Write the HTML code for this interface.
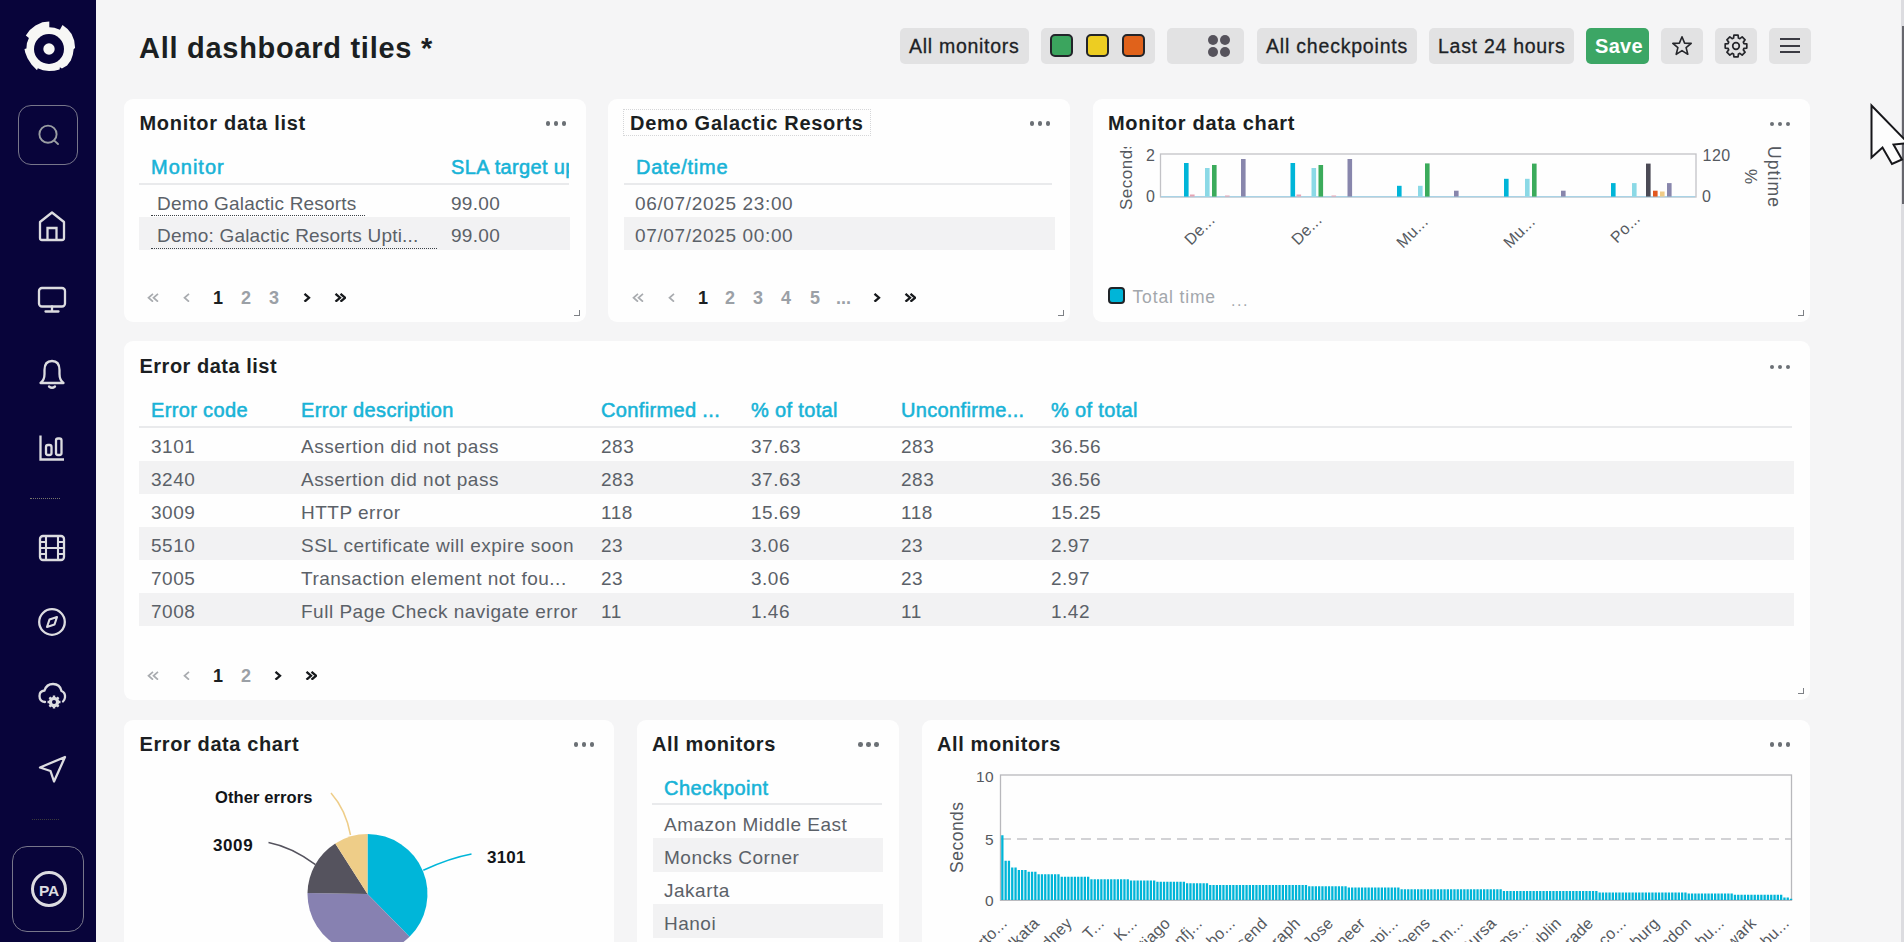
<!DOCTYPE html>
<html><head><meta charset="utf-8">
<style>
*{box-sizing:border-box;margin:0;padding:0}
html,body{width:1904px;height:942px;overflow:hidden;background:#f5f5f6;font-family:"Liberation Sans",sans-serif;color:#1d2226}
.abs{position:absolute}
#side{position:absolute;left:0;top:0;width:96px;height:942px;background:#08043a}
.card{position:absolute;background:#fefefe;border-radius:9px}
.ttl{position:absolute;font-weight:bold;font-size:20px;letter-spacing:0.6px;color:#1b1f22;white-space:nowrap;line-height:24px}
.dots{position:absolute;width:22px;height:6px}
.dots i{position:absolute;top:0;width:5px;height:5px;border-radius:50%;background:#6b7075}
.hdr{position:absolute;color:#1ab3d4;font-size:19px;font-weight:bold;white-space:nowrap;line-height:22px;letter-spacing:0.2px}
.cell{position:absolute;color:#5b6168;font-size:19px;white-space:nowrap;line-height:22px;letter-spacing:0.15px}
.rowbg{position:absolute;background:#f0f0f1}
.hline{position:absolute;height:2px;background:#e6e7e9}
.pg{position:absolute;font-size:19px;font-weight:bold;color:#9a9fa5;line-height:22px;white-space:nowrap}
.pg.on{color:#1b1f22}
.btn{position:absolute;top:28px;height:36px;background:#e2e2e3;border-radius:5px;font-size:20px;color:#1d2226;line-height:36px;white-space:nowrap;-webkit-text-stroke:0.3px #1d2226}
.rh{position:absolute;width:6px;height:6px;border-right:2px solid #777;border-bottom:2px solid #777}
.t{position:absolute;line-height:1;white-space:nowrap}
.a{position:absolute}
.dt{position:absolute;width:4.6px;height:4.6px;border-radius:50%}
.hl{position:absolute;height:2px;background:#e9eaec}
.rb{position:absolute;background:#f2f2f3}
.du{position:absolute;height:0;border-top:1.3px dotted #3b4046}
.rh{position:absolute;width:6px;height:6px;border-right:1.6px solid #7d8085;border-bottom:1.6px solid #7d8085}
</style></head><body>
<div id="side">
<svg class="abs" style="left:22.66px;top:22.67px;overflow:visible" width="52" height="52" viewBox="0 0 52 52"><path d="M26.3 -1.5 L26.3 4.2 L31.4 4.8 L36.9 6.8 L39.5 1.9 L44.6 5.9 L48.6 11.1 L51.2 17.4 L52.1 24.9 L50.7 26.0 L49.8 31.7 L47.8 37.5 L44.1 42.6 L38.9 45.5 L36.9 44.3 L36.6 46.4 L31.4 47.8 L26.0 48.1 L20.0 47.2 L14.8 45.2 L14.0 47.2 L8.5 41.5 L4.5 35.2 L2.2 29.4 L1.5 26.0 L3.4 25.4 L3.9 20.3 L5.9 15.1 L2.8 12.4 L6.8 7.1 L12.5 2.5 L19.4 -0.7 Z" fill="#f7f7f5"/><circle cx="26" cy="26" r="15" fill="#08043a"/><circle cx="26" cy="26" r="5.7" fill="#f7f7f5"/></svg>
<div class="abs" style="left:18px;top:105px;width:60px;height:60px;border:1.2px solid #77768a;border-radius:13px"></div>
<svg class="abs" style="left:36px;top:122px" width="24" height="24" viewBox="0 0 24 24"><circle cx="12" cy="12.2" r="8.6" fill="none" stroke="#9a9ea2" stroke-width="1.9"/><path d="M18.3 18.6 L22 22" stroke="#9a9ea2" stroke-width="1.9" stroke-linecap="round"/></svg>
<svg class="abs" style="left:36px;top:208px" width="32" height="36" viewBox="0 0 32 36">
 <path d="M4 14 L16 4.5 L28 14 L28 30 Q28 32 26 32 L6 32 Q4 32 4 30 Z" fill="none" stroke="#dcdce0" stroke-width="2.3" stroke-linejoin="round"/>
 <path d="M11.5 32 L11.5 20 L20.5 20 L20.5 32" fill="none" stroke="#dcdce0" stroke-width="2.3"/></svg>
<svg class="abs" style="left:36px;top:284px" width="32" height="32" viewBox="0 0 32 32">
 <rect x="3" y="4" width="26" height="18.5" rx="3" fill="none" stroke="#dcdce0" stroke-width="2.3"/>
 <path d="M16 22.5 L16 27.5 M9.5 27.5 L22.5 27.5" stroke="#dcdce0" stroke-width="2.3" stroke-linecap="round"/></svg>
<svg class="abs" style="left:36px;top:357px" width="32" height="34" viewBox="0 0 32 34">
 <path d="M4.5 26 Q8.5 23 8.5 17 L8.5 13 Q8.5 4 16 4 Q23.5 4 23.5 13 L23.5 17 Q23.5 23 27.5 26 Z" fill="none" stroke="#dcdce0" stroke-width="2.3" stroke-linejoin="round"/>
 <path d="M13 29.5 Q16 32 19 29.5" fill="none" stroke="#dcdce0" stroke-width="2.3" stroke-linecap="round"/></svg>
<svg class="abs" style="left:36px;top:432px" width="32" height="32" viewBox="0 0 32 32">
 <path d="M4.5 3.5 L4.5 27.5 L28 27.5" fill="none" stroke="#dcdce0" stroke-width="2.3"/>
 <rect x="10" y="13" width="5.5" height="10" rx="2" fill="none" stroke="#dcdce0" stroke-width="2.3"/>
 <rect x="20" y="6.5" width="5.5" height="16.5" rx="2" fill="none" stroke="#dcdce0" stroke-width="2.3"/></svg>
<div class="abs" style="left:30px;top:497.5px;width:30px;height:0;border-top:1.2px dotted #77776a"></div>
<svg class="abs" style="left:36px;top:532px" width="32" height="32" viewBox="0 0 32 32">
 <rect x="4" y="4" width="24" height="24" rx="3" fill="none" stroke="#dcdce0" stroke-width="2.3"/>
 <path d="M10 4 L10 28 M22 4 L22 28 M4 10 L10 10 M4 16 L28 16 M4 22 L10 22 M22 10 L28 10 M22 22 L28 22" stroke="#dcdce0" stroke-width="2.1"/></svg>
<svg class="abs" style="left:36px;top:606px" width="32" height="32" viewBox="0 0 32 32">
 <circle cx="16" cy="16" r="12.8" fill="none" stroke="#dcdce0" stroke-width="2.3"/>
 <path d="M21 11 L18.5 18.5 L11 21 L13.5 13.5 Z" fill="none" stroke="#dcdce0" stroke-width="2.1" stroke-linejoin="round"/></svg>
<svg class="abs" style="left:36px;top:680px" width="32" height="32" viewBox="0 0 32 32">
 <path d="M9 22 Q3.5 21.5 3.5 16 Q3.5 11 8.5 10.5 Q10.5 4 17 4 Q24 4 25.5 11 Q29.5 12.5 29 17.5 Q28.7 20 27 21.5" fill="none" stroke="#dcdce0" stroke-width="2.3" stroke-linecap="round"/>
 <circle cx="18" cy="22" r="5.2" fill="#dcdce0"/><circle cx="18" cy="22" r="2" fill="#08043a"/>
 <path d="M18 15.5 L18 28.5 M11.5 22 L24.5 22 M13.4 17.4 L22.6 26.6 M22.6 17.4 L13.4 26.6" stroke="#dcdce0" stroke-width="2.4"/>
 <circle cx="18" cy="22" r="2" fill="#08043a"/></svg>
<svg class="abs" style="left:36px;top:753px" width="32" height="32" viewBox="0 0 32 32">
 <path d="M29 4 L4 14.5 L14.5 18 L18 28.5 Z" fill="none" stroke="#dcdce0" stroke-width="2.3" stroke-linejoin="round"/></svg>
<div class="abs" style="left:32px;top:819px;width:27px;height:0;border-top:1px dotted #3a3a3a"></div>
<div class="abs" style="left:12px;top:846px;width:72px;height:86px;border:1.2px solid #77768a;border-radius:15px"></div>
<div class="abs" style="left:31px;top:870.7px;width:36px;height:36px;border:3px solid #dcdce0;border-radius:50%;color:#dcdce0;font-weight:bold;font-size:15.5px;line-height:34px;text-align:center;letter-spacing:-0.2px">PA</div>
</div>
<div class="abs ttl" style="left:139px;top:30px;font-size:29px;line-height:36px;letter-spacing:0.72px">All dashboard tiles *</div>
<!-- toolbar -->
<div class="btn" style="left:900px;width:129px;padding-left:9px;letter-spacing:0.72px;font-size:19.5px">All monitors</div>
<div class="btn" style="left:1041px;width:114px">
  <span class="abs" style="left:9px;top:6px;width:23px;height:23px;border:2.4px solid #23252a;border-radius:5px;background:#3ba55e"></span>
  <span class="abs" style="left:45px;top:6px;width:23px;height:23px;border:2.4px solid #23252a;border-radius:5px;background:#edcd22"></span>
  <span class="abs" style="left:81px;top:6px;width:23px;height:23px;border:2.4px solid #23252a;border-radius:5px;background:#e0621b"></span>
</div>
<div class="btn" style="left:1167px;width:77px">
  <span class="abs" style="left:41px;top:7px;width:10px;height:10px;border-radius:50%;background:#56535c"></span>
  <span class="abs" style="left:53px;top:7px;width:10px;height:10px;border-radius:50%;background:#56535c"></span>
  <span class="abs" style="left:41px;top:19px;width:10px;height:10px;border-radius:50%;background:#56535c"></span>
  <span class="abs" style="left:53px;top:19px;width:10px;height:10px;border-radius:50%;background:#56535c"></span>
</div>
<div class="btn" style="left:1257px;width:160px;padding-left:9px;letter-spacing:0.8px;font-size:19.5px">All checkpoints</div>
<div class="btn" style="left:1429px;width:145px;padding-left:9px;letter-spacing:0.72px;font-size:19.5px">Last 24 hours</div>
<div class="btn" style="left:1586px;width:63px;background:#3ca665;color:#fff;padding-left:9px;font-size:20px;font-weight:bold;letter-spacing:0.3px;-webkit-text-stroke:0">Save</div>
<div class="btn" style="left:1661px;width:42px">
  <svg class="abs" style="left:10px;top:7px" width="22" height="22" viewBox="0 0 22 22"><path d="M11 1.8 L13.6 8.1 L20.2 8.4 L15.1 12.6 L16.8 19.3 L11 15.6 L5.2 19.3 L6.9 12.6 L1.8 8.4 L8.4 8.1 Z" fill="none" stroke="#25262b" stroke-width="1.6" stroke-linejoin="round"/></svg>
</div>
<div class="btn" style="left:1715px;width:42px">
  <svg class="abs" style="left:8px;top:5px" width="26" height="26" viewBox="0 0 26 26"><path d="M10.55 5.07 L10.92 2.20 L15.08 2.20 L15.45 5.07 L16.87 5.66 L19.17 3.89 L22.11 6.83 L20.34 9.13 L20.93 10.55 L23.80 10.92 L23.80 15.08 L20.93 15.45 L20.34 16.87 L22.11 19.17 L19.17 22.11 L16.87 20.34 L15.45 20.93 L15.08 23.80 L10.92 23.80 L10.55 20.93 L9.13 20.34 L6.83 22.11 L3.89 19.17 L5.66 16.87 L5.07 15.45 L2.20 15.08 L2.20 10.92 L5.07 10.55 L5.66 9.13 L3.89 6.83 L6.83 3.89 L9.13 5.66 Z" fill="none" stroke="#25262b" stroke-width="1.7" stroke-linejoin="round"/><circle cx="13" cy="13" r="3.3" fill="none" stroke="#25262b" stroke-width="1.7"/></svg>
</div>
<div class="btn" style="left:1769px;width:42px">
  <span class="abs" style="left:11px;top:10px;width:20px;height:2.2px;background:#3a3a42"></span>
  <span class="abs" style="left:11px;top:17px;width:20px;height:2.2px;background:#3a3a42"></span>
  <span class="abs" style="left:11px;top:23px;width:20px;height:2.2px;background:#3a3a42"></span>
</div>
<div class="card" style="left:124px;top:99px;width:462px;height:223px"></div>
<div class="t" style="left:139.5px;top:113.1px;font-size:20px;font-weight:bold;color:#1b1f22;letter-spacing:0.7px;">Monitor data list</div>
<i class="dt" style="left:545.7px;top:121.2px;background:#6b7075"></i><i class="dt" style="left:553.7px;top:121.2px;background:#6b7075"></i><i class="dt" style="left:561.7px;top:121.2px;background:#6b7075"></i>
<div class="t" style="left:151.0px;top:157.2px;font-size:20px;font-weight:normal;color:#18b3d7;letter-spacing:1.0px;-webkit-text-stroke:0.55px #18b3d7">Monitor</div>
<div class="a" style="left:451px;top:152px;width:118px;height:28px;overflow:hidden"><div class="t" style="left:0.0px;top:5.2px;font-size:20px;font-weight:normal;color:#18b3d7;letter-spacing:0.35px;-webkit-text-stroke:0.55px #18b3d7">SLA target uptime</div>
</div>
<i class="hl" style="left:139px;top:183px;width:430px"></i>
<i class="rb" style="left:139px;top:217px;width:431px;height:33px"></i>
<div class="t" style="left:157.0px;top:193.6px;font-size:19px;font-weight:normal;color:#5b6168;letter-spacing:0.2px;">Demo Galactic Resorts</div>
<i class="du" style="left:151px;top:215px;width:214px"></i>
<div class="t" style="left:451.0px;top:193.6px;font-size:19px;font-weight:normal;color:#5b6168;letter-spacing:0.3px;">99.00</div>
<div class="t" style="left:157.0px;top:226.2px;font-size:19px;font-weight:normal;color:#5b6168;letter-spacing:0.2px;">Demo: Galactic Resorts Upti...</div>
<i class="du" style="left:151px;top:248px;width:286px"></i>
<div class="t" style="left:451.0px;top:226.2px;font-size:19px;font-weight:normal;color:#5b6168;letter-spacing:0.3px;">99.00</div>
<svg class="a" style="left:147.0px;top:292.8px" width="12" height="9.5" viewBox="0 0 12 9.5"><path d="M6 0.8 L1.5 4.75 L6 8.7 M11 0.8 L6.5 4.75 L11 8.7" fill="none" stroke="#a8abaf" stroke-width="1.7"/></svg>
<svg class="a" style="left:183.0px;top:292.8px" width="8" height="9.5" viewBox="0 0 8 9.5"><path d="M6 0.8 L1.5 4.75 L6 8.7" fill="none" stroke="#a8abaf" stroke-width="1.7"/></svg>
<div class="t" style="left:213.0px;top:288.8px;font-size:18px;font-weight:bold;color:#1b1f22;letter-spacing:0px;">1</div>
<div class="t" style="left:241.0px;top:288.8px;font-size:18px;font-weight:bold;color:#9ba0a6;letter-spacing:0px;">2</div>
<div class="t" style="left:269.0px;top:288.8px;font-size:18px;font-weight:bold;color:#9ba0a6;letter-spacing:0px;">3</div>
<svg class="a" style="left:302.5px;top:292.8px" width="8" height="9.5" viewBox="0 0 8 9.5"><path d="M1.5 0.8 L6 4.75 L1.5 8.7" fill="none" stroke="#16191c" stroke-width="2.3"/></svg>
<svg class="a" style="left:334.0px;top:292.8px" width="12" height="9.5" viewBox="0 0 12 9.5"><path d="M1.5 0.8 L6 4.75 L1.5 8.7 M6.5 0.8 L11 4.75 L6.5 8.7" fill="none" stroke="#16191c" stroke-width="2.3"/></svg>
<i class="rh" style="left:574.0px;top:310.0px"></i>
<div class="card" style="left:608px;top:99px;width:462px;height:223px"></div>
<i class="a" style="left:623px;top:109px;width:248px;height:27px;border:1px dotted #d5d6d8"></i>
<div class="t" style="left:630.0px;top:113.1px;font-size:20px;font-weight:bold;color:#1b1f22;letter-spacing:0.7px;">Demo Galactic Resorts</div>
<i class="dt" style="left:1029.7px;top:121.2px;background:#6b7075"></i><i class="dt" style="left:1037.7px;top:121.2px;background:#6b7075"></i><i class="dt" style="left:1045.7px;top:121.2px;background:#6b7075"></i>
<div class="t" style="left:636.0px;top:157.2px;font-size:20px;font-weight:normal;color:#18b3d7;letter-spacing:0.75px;-webkit-text-stroke:0.55px #18b3d7">Date/time</div>
<i class="hl" style="left:624px;top:183px;width:428px"></i>
<i class="rb" style="left:624px;top:217px;width:431px;height:33px"></i>
<div class="t" style="left:635.0px;top:193.6px;font-size:19px;font-weight:normal;color:#5b6168;letter-spacing:0.65px;">06/07/2025 23:00</div>
<div class="t" style="left:635.0px;top:226.2px;font-size:19px;font-weight:normal;color:#5b6168;letter-spacing:0.65px;">07/07/2025 00:00</div>
<svg class="a" style="left:632.0px;top:292.8px" width="12" height="9.5" viewBox="0 0 12 9.5"><path d="M6 0.8 L1.5 4.75 L6 8.7 M11 0.8 L6.5 4.75 L11 8.7" fill="none" stroke="#a8abaf" stroke-width="1.7"/></svg>
<svg class="a" style="left:668.0px;top:292.8px" width="8" height="9.5" viewBox="0 0 8 9.5"><path d="M6 0.8 L1.5 4.75 L6 8.7" fill="none" stroke="#a8abaf" stroke-width="1.7"/></svg>
<div class="t" style="left:698.0px;top:288.8px;font-size:18px;font-weight:bold;color:#1b1f22;letter-spacing:0px;">1</div>
<div class="t" style="left:725.0px;top:288.8px;font-size:18px;font-weight:bold;color:#9ba0a6;letter-spacing:0px;">2</div>
<div class="t" style="left:753.0px;top:288.8px;font-size:18px;font-weight:bold;color:#9ba0a6;letter-spacing:0px;">3</div>
<div class="t" style="left:781.0px;top:288.8px;font-size:18px;font-weight:bold;color:#9ba0a6;letter-spacing:0px;">4</div>
<div class="t" style="left:810.0px;top:288.8px;font-size:18px;font-weight:bold;color:#9ba0a6;letter-spacing:0px;">5</div>
<div class="t" style="left:836.0px;top:288.8px;font-size:18px;font-weight:bold;color:#9ba0a6;letter-spacing:0px;">...</div>
<svg class="a" style="left:873.0px;top:292.8px" width="8" height="9.5" viewBox="0 0 8 9.5"><path d="M1.5 0.8 L6 4.75 L1.5 8.7" fill="none" stroke="#16191c" stroke-width="2.3"/></svg>
<svg class="a" style="left:904.0px;top:292.8px" width="12" height="9.5" viewBox="0 0 12 9.5"><path d="M1.5 0.8 L6 4.75 L1.5 8.7 M6.5 0.8 L11 4.75 L6.5 8.7" fill="none" stroke="#16191c" stroke-width="2.3"/></svg>
<i class="rh" style="left:1058.0px;top:310.0px"></i>
<div class="card" style="left:1093px;top:99px;width:717px;height:223px"></div>
<div class="t" style="left:1108.0px;top:113.1px;font-size:20px;font-weight:bold;color:#1b1f22;letter-spacing:0.7px;">Monitor data chart</div>
<i class="dt" style="left:1769.7px;top:121.7px;background:#6b7075"></i><i class="dt" style="left:1777.7px;top:121.7px;background:#6b7075"></i><i class="dt" style="left:1785.7px;top:121.7px;background:#6b7075"></i>
<svg class="a" style="left:1093px;top:99px" width="717" height="223" viewBox="1093 99 717 223"><rect x="1160.5" y="154" width="535.5" height="43" fill="none" stroke="#c2c2c6" stroke-width="1.3"/><line x1="1161" y1="196.6" x2="1695" y2="196.6" stroke="#a9d3e6" stroke-width="1.4"/><rect x="1184.0" y="163" width="4.6" height="33.6" fill="#00b5d8"/><rect x="1190.0" y="194.5" width="4.6" height="2.1" fill="#e6a4b4"/><rect x="1205.0" y="168" width="4.6" height="28.6" fill="#8bd9e6"/><rect x="1212.0" y="165" width="4.6" height="31.6" fill="#3bab5b"/><rect x="1225.0" y="195.5" width="4.6" height="1.1" fill="#e6a4b4"/><rect x="1241.0" y="159" width="4.6" height="37.6" fill="#8886ac"/><rect x="1290.5" y="163" width="4.6" height="33.6" fill="#00b5d8"/><rect x="1296.5" y="194.5" width="4.6" height="2.1" fill="#e6a4b4"/><rect x="1311.5" y="168" width="4.6" height="28.6" fill="#8bd9e6"/><rect x="1318.5" y="165" width="4.6" height="31.6" fill="#3bab5b"/><rect x="1331.5" y="195.5" width="4.6" height="1.1" fill="#e6a4b4"/><rect x="1347.5" y="159" width="4.6" height="37.6" fill="#8886ac"/><rect x="1397.0" y="185.8" width="4.6" height="10.8" fill="#00b5d8"/><rect x="1418.0" y="185.8" width="4.6" height="10.8" fill="#8bd9e6"/><rect x="1425.0" y="163.4" width="4.6" height="33.2" fill="#3bab5b"/><rect x="1454.0" y="190.7" width="4.6" height="5.9" fill="#8886ac"/><rect x="1504.0" y="178.8" width="4.6" height="17.8" fill="#00b5d8"/><rect x="1525.0" y="178.8" width="4.6" height="17.8" fill="#8bd9e6"/><rect x="1532.0" y="163.6" width="4.6" height="33.0" fill="#3bab5b"/><rect x="1561.0" y="190.7" width="4.6" height="5.9" fill="#8886ac"/><rect x="1611.0" y="183.1" width="4.6" height="13.5" fill="#00b5d8"/><rect x="1632.0" y="183.1" width="4.6" height="13.5" fill="#8bd9e6"/><rect x="1646.0" y="163.6" width="4.6" height="33.0" fill="#4b4a55"/><rect x="1653.0" y="190.7" width="4.6" height="5.9" fill="#e2581f"/><rect x="1660.0" y="191.5" width="4.6" height="5.1" fill="#f0cb86"/><rect x="1667.0" y="183.1" width="4.6" height="13.5" fill="#8886ac"/></svg>
<div class="t" style="left:1146.0px;top:147.5px;font-size:16px;font-weight:normal;color:#55595f;letter-spacing:0px;">2</div>
<div class="t" style="left:1146.0px;top:189.3px;font-size:16px;font-weight:normal;color:#55595f;letter-spacing:0px;">0</div>
<div class="t" style="left:1702.5px;top:148.0px;font-size:16px;font-weight:normal;color:#55595f;letter-spacing:0.5px;">120</div>
<div class="t" style="left:1702.0px;top:189.0px;font-size:16px;font-weight:normal;color:#55595f;letter-spacing:0px;">0</div>
<div class="a" style="left:1112px;top:147px;width:26px;height:64px;overflow:hidden"><div class="t" style="left:5.5px;top:63px;font-size:17px;color:#55595f;letter-spacing:0.5px;transform-origin:0 0;transform:rotate(-90deg)">Seconds</div></div>
<div class="t" style="left:1782px;top:146px;font-size:17.5px;color:#55595f;letter-spacing:1.1px;transform-origin:0 0;transform:rotate(90deg)">Uptime</div>
<div class="t" style="left:1759px;top:169px;font-size:17px;color:#55595f;transform-origin:0 0;transform:rotate(90deg)">%</div>
<div class="t" style="left:1193px;top:248px;font-size:16px;color:#55595f;letter-spacing:0.3px;transform-origin:0 100%;transform:translateY(-100%) rotate(-45deg)">De...</div>
<div class="t" style="left:1300px;top:248px;font-size:16px;color:#55595f;letter-spacing:0.3px;transform-origin:0 100%;transform:translateY(-100%) rotate(-45deg)">De...</div>
<div class="t" style="left:1405px;top:251px;font-size:16px;color:#55595f;letter-spacing:0.3px;transform-origin:0 100%;transform:translateY(-100%) rotate(-45deg)">Mu...</div>
<div class="t" style="left:1512px;top:251px;font-size:16px;color:#55595f;letter-spacing:0.3px;transform-origin:0 100%;transform:translateY(-100%) rotate(-45deg)">Mu...</div>
<div class="t" style="left:1619px;top:246px;font-size:16px;color:#55595f;letter-spacing:0.3px;transform-origin:0 100%;transform:translateY(-100%) rotate(-45deg)">Po...</div>
<i class="a" style="left:1108px;top:287px;width:17px;height:17px;background:#00b5d8;border:2px solid #202428;border-radius:4px"></i>
<div class="t" style="left:1132.5px;top:288.7px;font-size:17.5px;font-weight:normal;color:#a3a7ac;letter-spacing:0.85px;">Total time</div>
<div class="t" style="left:1231.0px;top:293.0px;font-size:16px;font-weight:normal;color:#a3a7ac;letter-spacing:1.6px;">...</div>
<i class="rh" style="left:1798.0px;top:310.0px"></i>
<div class="card" style="left:124px;top:341px;width:1686px;height:359px"></div>
<div class="t" style="left:139.5px;top:356.1px;font-size:20px;font-weight:bold;color:#1b1f22;letter-spacing:0.5px;">Error data list</div>
<i class="dt" style="left:1769.7px;top:364.5px;background:#6b7075"></i><i class="dt" style="left:1777.7px;top:364.5px;background:#6b7075"></i><i class="dt" style="left:1785.7px;top:364.5px;background:#6b7075"></i>
<div class="t" style="left:151.0px;top:400.0px;font-size:20px;font-weight:normal;color:#18b3d7;letter-spacing:0.35px;-webkit-text-stroke:0.55px #18b3d7">Error code</div>
<div class="t" style="left:301.0px;top:400.0px;font-size:20px;font-weight:normal;color:#18b3d7;letter-spacing:0.35px;-webkit-text-stroke:0.55px #18b3d7">Error description</div>
<div class="t" style="left:601.0px;top:400.0px;font-size:20px;font-weight:normal;color:#18b3d7;letter-spacing:0.35px;-webkit-text-stroke:0.55px #18b3d7">Confirmed ...</div>
<div class="t" style="left:751.0px;top:400.0px;font-size:20px;font-weight:normal;color:#18b3d7;letter-spacing:0.35px;-webkit-text-stroke:0.55px #18b3d7">% of total</div>
<div class="t" style="left:901.0px;top:400.0px;font-size:20px;font-weight:normal;color:#18b3d7;letter-spacing:0.35px;-webkit-text-stroke:0.55px #18b3d7">Unconfirme...</div>
<div class="t" style="left:1051.0px;top:400.0px;font-size:20px;font-weight:normal;color:#18b3d7;letter-spacing:0.35px;-webkit-text-stroke:0.55px #18b3d7">% of total</div>
<i class="hl" style="left:139px;top:426px;width:1653px"></i>
<div class="t" style="left:151.0px;top:436.9px;font-size:19px;font-weight:normal;color:#5b6168;letter-spacing:0.5px;">3101</div>
<div class="t" style="left:301.0px;top:436.9px;font-size:19px;font-weight:normal;color:#5b6168;letter-spacing:0.5px;">Assertion did not pass</div>
<div class="t" style="left:601.0px;top:436.9px;font-size:19px;font-weight:normal;color:#5b6168;letter-spacing:0.5px;">283</div>
<div class="t" style="left:751.0px;top:436.9px;font-size:19px;font-weight:normal;color:#5b6168;letter-spacing:0.5px;">37.63</div>
<div class="t" style="left:901.0px;top:436.9px;font-size:19px;font-weight:normal;color:#5b6168;letter-spacing:0.5px;">283</div>
<div class="t" style="left:1051.0px;top:436.9px;font-size:19px;font-weight:normal;color:#5b6168;letter-spacing:0.5px;">36.56</div>
<i class="rb" style="left:139px;top:461px;width:1655px;height:33px"></i>
<div class="t" style="left:151.0px;top:469.9px;font-size:19px;font-weight:normal;color:#5b6168;letter-spacing:0.5px;">3240</div>
<div class="t" style="left:301.0px;top:469.9px;font-size:19px;font-weight:normal;color:#5b6168;letter-spacing:0.5px;">Assertion did not pass</div>
<div class="t" style="left:601.0px;top:469.9px;font-size:19px;font-weight:normal;color:#5b6168;letter-spacing:0.5px;">283</div>
<div class="t" style="left:751.0px;top:469.9px;font-size:19px;font-weight:normal;color:#5b6168;letter-spacing:0.5px;">37.63</div>
<div class="t" style="left:901.0px;top:469.9px;font-size:19px;font-weight:normal;color:#5b6168;letter-spacing:0.5px;">283</div>
<div class="t" style="left:1051.0px;top:469.9px;font-size:19px;font-weight:normal;color:#5b6168;letter-spacing:0.5px;">36.56</div>
<div class="t" style="left:151.0px;top:502.9px;font-size:19px;font-weight:normal;color:#5b6168;letter-spacing:0.5px;">3009</div>
<div class="t" style="left:301.0px;top:502.9px;font-size:19px;font-weight:normal;color:#5b6168;letter-spacing:0.5px;">HTTP error</div>
<div class="t" style="left:601.0px;top:502.9px;font-size:19px;font-weight:normal;color:#5b6168;letter-spacing:0.5px;">118</div>
<div class="t" style="left:751.0px;top:502.9px;font-size:19px;font-weight:normal;color:#5b6168;letter-spacing:0.5px;">15.69</div>
<div class="t" style="left:901.0px;top:502.9px;font-size:19px;font-weight:normal;color:#5b6168;letter-spacing:0.5px;">118</div>
<div class="t" style="left:1051.0px;top:502.9px;font-size:19px;font-weight:normal;color:#5b6168;letter-spacing:0.5px;">15.25</div>
<i class="rb" style="left:139px;top:527px;width:1655px;height:33px"></i>
<div class="t" style="left:151.0px;top:535.9px;font-size:19px;font-weight:normal;color:#5b6168;letter-spacing:0.5px;">5510</div>
<div class="t" style="left:301.0px;top:535.9px;font-size:19px;font-weight:normal;color:#5b6168;letter-spacing:0.5px;">SSL certificate will expire soon</div>
<div class="t" style="left:601.0px;top:535.9px;font-size:19px;font-weight:normal;color:#5b6168;letter-spacing:0.5px;">23</div>
<div class="t" style="left:751.0px;top:535.9px;font-size:19px;font-weight:normal;color:#5b6168;letter-spacing:0.5px;">3.06</div>
<div class="t" style="left:901.0px;top:535.9px;font-size:19px;font-weight:normal;color:#5b6168;letter-spacing:0.5px;">23</div>
<div class="t" style="left:1051.0px;top:535.9px;font-size:19px;font-weight:normal;color:#5b6168;letter-spacing:0.5px;">2.97</div>
<div class="t" style="left:151.0px;top:568.9px;font-size:19px;font-weight:normal;color:#5b6168;letter-spacing:0.5px;">7005</div>
<div class="t" style="left:301.0px;top:568.9px;font-size:19px;font-weight:normal;color:#5b6168;letter-spacing:0.5px;">Transaction element not fou...</div>
<div class="t" style="left:601.0px;top:568.9px;font-size:19px;font-weight:normal;color:#5b6168;letter-spacing:0.5px;">23</div>
<div class="t" style="left:751.0px;top:568.9px;font-size:19px;font-weight:normal;color:#5b6168;letter-spacing:0.5px;">3.06</div>
<div class="t" style="left:901.0px;top:568.9px;font-size:19px;font-weight:normal;color:#5b6168;letter-spacing:0.5px;">23</div>
<div class="t" style="left:1051.0px;top:568.9px;font-size:19px;font-weight:normal;color:#5b6168;letter-spacing:0.5px;">2.97</div>
<i class="rb" style="left:139px;top:593px;width:1655px;height:33px"></i>
<div class="t" style="left:151.0px;top:601.9px;font-size:19px;font-weight:normal;color:#5b6168;letter-spacing:0.5px;">7008</div>
<div class="t" style="left:301.0px;top:601.9px;font-size:19px;font-weight:normal;color:#5b6168;letter-spacing:0.5px;">Full Page Check navigate error</div>
<div class="t" style="left:601.0px;top:601.9px;font-size:19px;font-weight:normal;color:#5b6168;letter-spacing:0.5px;">11</div>
<div class="t" style="left:751.0px;top:601.9px;font-size:19px;font-weight:normal;color:#5b6168;letter-spacing:0.5px;">1.46</div>
<div class="t" style="left:901.0px;top:601.9px;font-size:19px;font-weight:normal;color:#5b6168;letter-spacing:0.5px;">11</div>
<div class="t" style="left:1051.0px;top:601.9px;font-size:19px;font-weight:normal;color:#5b6168;letter-spacing:0.5px;">1.42</div>
<svg class="a" style="left:147.0px;top:670.8px" width="12" height="9.5" viewBox="0 0 12 9.5"><path d="M6 0.8 L1.5 4.75 L6 8.7 M11 0.8 L6.5 4.75 L11 8.7" fill="none" stroke="#a8abaf" stroke-width="1.7"/></svg>
<svg class="a" style="left:183.0px;top:670.8px" width="8" height="9.5" viewBox="0 0 8 9.5"><path d="M6 0.8 L1.5 4.75 L6 8.7" fill="none" stroke="#a8abaf" stroke-width="1.7"/></svg>
<div class="t" style="left:213.0px;top:666.8px;font-size:18px;font-weight:bold;color:#1b1f22;letter-spacing:0px;">1</div>
<div class="t" style="left:241.0px;top:666.8px;font-size:18px;font-weight:bold;color:#9ba0a6;letter-spacing:0px;">2</div>
<svg class="a" style="left:274.0px;top:670.8px" width="8" height="9.5" viewBox="0 0 8 9.5"><path d="M1.5 0.8 L6 4.75 L1.5 8.7" fill="none" stroke="#16191c" stroke-width="2.3"/></svg>
<svg class="a" style="left:305.0px;top:670.8px" width="12" height="9.5" viewBox="0 0 12 9.5"><path d="M1.5 0.8 L6 4.75 L1.5 8.7 M6.5 0.8 L11 4.75 L6.5 8.7" fill="none" stroke="#16191c" stroke-width="2.3"/></svg>
<i class="rh" style="left:1798.0px;top:688.0px"></i>
<div class="card" style="left:124px;top:720px;width:490px;height:240px"></div>
<div class="t" style="left:139.5px;top:734.2px;font-size:20px;font-weight:bold;color:#1b1f22;letter-spacing:0.6px;">Error data chart</div>
<i class="dt" style="left:573.7px;top:742.3px;background:#6b7075"></i><i class="dt" style="left:581.7px;top:742.3px;background:#6b7075"></i><i class="dt" style="left:589.7px;top:742.3px;background:#6b7075"></i>
<svg class="a" style="left:124px;top:720px" width="490" height="222" viewBox="124 720 490 222"><path d="M367.5 894 L367.50 834.00 A60 60 0 0 1 409.55 936.80 Z" fill="#00b6d9"/><path d="M367.5 894 L409.55 936.80 A60 60 0 0 1 307.51 892.95 Z" fill="#8781b1"/><path d="M367.5 894 L307.51 892.95 A60 60 0 0 1 335.26 843.40 Z" fill="#55535e"/><path d="M367.5 894 L335.26 843.40 A60 60 0 0 1 367.50 834.00 Z" fill="#eecd88"/><path d="M331 793 Q346 810 350.5 835" fill="none" stroke="#eecd88" stroke-width="1.5"/><path d="M268.5 842.4 Q292 847 315.5 864.6" fill="none" stroke="#55535e" stroke-width="1.5"/><path d="M471.5 854 Q450 858 423.3 870.2" fill="none" stroke="#00b6d9" stroke-width="1.5"/></svg>
<div class="t" style="left:215.0px;top:789.0px;font-size:16.5px;font-weight:bold;color:#111418;letter-spacing:0.1px;">Other errors</div>
<div class="t" style="left:213.0px;top:837.4px;font-size:17px;font-weight:bold;color:#111418;letter-spacing:0.6px;">3009</div>
<div class="t" style="left:487.0px;top:848.6px;font-size:17px;font-weight:bold;color:#111418;letter-spacing:0.2px;">3101</div>
<div class="card" style="left:637px;top:720px;width:262px;height:240px"></div>
<div class="t" style="left:652.0px;top:733.7px;font-size:20px;font-weight:bold;color:#1b1f22;letter-spacing:0.6px;">All monitors</div>
<i class="dt" style="left:858.1px;top:742.2px;background:#6b7075"></i><i class="dt" style="left:866.1px;top:742.2px;background:#6b7075"></i><i class="dt" style="left:874.1px;top:742.2px;background:#6b7075"></i>
<div class="t" style="left:664.0px;top:777.6px;font-size:20px;font-weight:normal;color:#18b3d7;letter-spacing:0.45px;-webkit-text-stroke:0.55px #18b3d7">Checkpoint</div>
<i class="hl" style="left:652px;top:803px;width:230px"></i>
<i class="rb" style="left:652.5px;top:838px;width:230.5px;height:33.5px"></i>
<i class="rb" style="left:652.5px;top:904px;width:230.5px;height:33.5px"></i>
<div class="t" style="left:664.0px;top:814.9px;font-size:19px;font-weight:normal;color:#5b6168;letter-spacing:0.5px;">Amazon Middle East</div>
<div class="t" style="left:664.0px;top:847.9px;font-size:19px;font-weight:normal;color:#5b6168;letter-spacing:0.5px;">Moncks Corner</div>
<div class="t" style="left:664.0px;top:880.9px;font-size:19px;font-weight:normal;color:#5b6168;letter-spacing:0.5px;">Jakarta</div>
<div class="t" style="left:664.0px;top:913.9px;font-size:19px;font-weight:normal;color:#5b6168;letter-spacing:0.5px;">Hanoi</div>
<div class="card" style="left:922px;top:720px;width:888px;height:240px"></div>
<div class="t" style="left:937.0px;top:733.8px;font-size:20px;font-weight:bold;color:#1b1f22;letter-spacing:0.6px;">All monitors</div>
<i class="dt" style="left:1769.7px;top:742.2px;background:#6b7075"></i><i class="dt" style="left:1777.7px;top:742.2px;background:#6b7075"></i><i class="dt" style="left:1785.7px;top:742.2px;background:#6b7075"></i>
<svg class="a" style="left:922px;top:720px" width="888" height="222" viewBox="922 720 888 222"><rect x="1000.5" y="775" width="791" height="125.3" fill="none" stroke="#b8b8bc" stroke-width="1.3"/><line x1="1001" y1="839" x2="1791" y2="839" stroke="#c4c4c8" stroke-width="1.5" stroke-dasharray="10 6"/><path d="M1001.2 835.3h2.3v64.7h-2.3zM1004.5 860.7h2.3v39.3h-2.3zM1007.8 860.7h2.3v39.3h-2.3zM1011.1 867.4h2.3v32.6h-2.3zM1014.4 867.4h2.3v32.6h-2.3zM1017.7 869.9h2.3v30.1h-2.3zM1021.0 869.9h2.3v30.1h-2.3zM1024.3 869.9h2.3v30.1h-2.3zM1027.6 871.8h2.3v28.2h-2.3zM1030.9 871.8h2.3v28.2h-2.3zM1034.2 871.8h2.3v28.2h-2.3zM1037.5 874.3h2.3v25.7h-2.3zM1040.8 874.3h2.3v25.7h-2.3zM1044.1 874.3h2.3v25.7h-2.3zM1047.4 874.3h2.3v25.7h-2.3zM1050.7 874.3h2.3v25.7h-2.3zM1054.0 874.3h2.3v25.7h-2.3zM1057.3 874.3h2.3v25.7h-2.3zM1060.6 876.8h2.3v23.2h-2.3zM1063.9 876.8h2.3v23.2h-2.3zM1067.2 876.8h2.3v23.2h-2.3zM1070.5 876.8h2.3v23.2h-2.3zM1073.8 876.8h2.3v23.2h-2.3zM1077.1 876.8h2.3v23.2h-2.3zM1080.4 876.8h2.3v23.2h-2.3zM1083.7 876.8h2.3v23.2h-2.3zM1087.0 876.8h2.3v23.2h-2.3zM1090.3 879.3h2.3v20.7h-2.3zM1093.6 879.3h2.3v20.7h-2.3zM1096.9 879.3h2.3v20.7h-2.3zM1100.2 879.3h2.3v20.7h-2.3zM1103.5 879.3h2.3v20.7h-2.3zM1106.8 879.3h2.3v20.7h-2.3zM1110.1 879.3h2.3v20.7h-2.3zM1113.4 879.3h2.3v20.7h-2.3zM1116.7 879.3h2.3v20.7h-2.3zM1120.0 879.3h2.3v20.7h-2.3zM1123.3 879.3h2.3v20.7h-2.3zM1126.6 879.3h2.3v20.7h-2.3zM1129.9 880.6h2.3v19.4h-2.3zM1133.2 880.6h2.3v19.4h-2.3zM1136.5 880.6h2.3v19.4h-2.3zM1139.8 880.6h2.3v19.4h-2.3zM1143.1 880.6h2.3v19.4h-2.3zM1146.4 880.6h2.3v19.4h-2.3zM1149.7 880.6h2.3v19.4h-2.3zM1153.0 880.6h2.3v19.4h-2.3zM1156.3 881.8h2.3v18.2h-2.3zM1159.6 881.8h2.3v18.2h-2.3zM1162.9 881.8h2.3v18.2h-2.3zM1166.2 881.8h2.3v18.2h-2.3zM1169.5 881.8h2.3v18.2h-2.3zM1172.8 881.8h2.3v18.2h-2.3zM1176.1 881.8h2.3v18.2h-2.3zM1179.4 881.8h2.3v18.2h-2.3zM1182.7 881.8h2.3v18.2h-2.3zM1186.0 883.3h2.3v16.7h-2.3zM1189.3 883.3h2.3v16.7h-2.3zM1192.6 883.3h2.3v16.7h-2.3zM1195.9 883.3h2.3v16.7h-2.3zM1199.2 883.3h2.3v16.7h-2.3zM1202.5 883.3h2.3v16.7h-2.3zM1205.8 883.3h2.3v16.7h-2.3zM1209.1 885.0h2.3v15.0h-2.3zM1212.4 885.0h2.3v15.0h-2.3zM1215.7 885.0h2.3v15.0h-2.3zM1219.0 885.0h2.3v15.0h-2.3zM1222.3 885.0h2.3v15.0h-2.3zM1225.6 885.0h2.3v15.0h-2.3zM1228.9 885.0h2.3v15.0h-2.3zM1232.2 885.0h2.3v15.0h-2.3zM1235.5 885.0h2.3v15.0h-2.3zM1238.8 885.0h2.3v15.0h-2.3zM1242.1 885.0h2.3v15.0h-2.3zM1245.4 885.0h2.3v15.0h-2.3zM1248.7 885.0h2.3v15.0h-2.3zM1252.0 885.0h2.3v15.0h-2.3zM1255.3 885.0h2.3v15.0h-2.3zM1258.6 885.0h2.3v15.0h-2.3zM1261.9 885.0h2.3v15.0h-2.3zM1265.2 885.0h2.3v15.0h-2.3zM1268.5 885.0h2.3v15.0h-2.3zM1271.8 885.0h2.3v15.0h-2.3zM1275.1 885.0h2.3v15.0h-2.3zM1278.4 885.0h2.3v15.0h-2.3zM1281.7 885.0h2.3v15.0h-2.3zM1285.0 885.0h2.3v15.0h-2.3zM1288.3 885.0h2.3v15.0h-2.3zM1291.6 885.0h2.3v15.0h-2.3zM1294.9 885.0h2.3v15.0h-2.3zM1298.2 885.0h2.3v15.0h-2.3zM1301.5 885.0h2.3v15.0h-2.3zM1304.8 885.0h2.3v15.0h-2.3zM1308.1 886.2h2.3v13.8h-2.3zM1311.4 886.2h2.3v13.8h-2.3zM1314.7 886.2h2.3v13.8h-2.3zM1318.0 886.2h2.3v13.8h-2.3zM1321.3 886.2h2.3v13.8h-2.3zM1324.6 886.2h2.3v13.8h-2.3zM1327.9 886.2h2.3v13.8h-2.3zM1331.2 886.2h2.3v13.8h-2.3zM1334.5 886.2h2.3v13.8h-2.3zM1337.8 886.2h2.3v13.8h-2.3zM1341.1 886.2h2.3v13.8h-2.3zM1344.4 886.2h2.3v13.8h-2.3zM1347.7 887.6h2.3v12.4h-2.3zM1351.0 887.6h2.3v12.4h-2.3zM1354.3 887.6h2.3v12.4h-2.3zM1357.6 887.6h2.3v12.4h-2.3zM1360.9 887.6h2.3v12.4h-2.3zM1364.2 887.6h2.3v12.4h-2.3zM1367.5 887.6h2.3v12.4h-2.3zM1370.8 887.6h2.3v12.4h-2.3zM1374.1 887.6h2.3v12.4h-2.3zM1377.4 887.6h2.3v12.4h-2.3zM1380.7 887.6h2.3v12.4h-2.3zM1384.0 887.6h2.3v12.4h-2.3zM1387.3 887.6h2.3v12.4h-2.3zM1390.6 887.6h2.3v12.4h-2.3zM1393.9 887.6h2.3v12.4h-2.3zM1397.2 887.6h2.3v12.4h-2.3zM1400.5 889.3h2.3v10.7h-2.3zM1403.8 889.3h2.3v10.7h-2.3zM1407.1 889.3h2.3v10.7h-2.3zM1410.4 889.3h2.3v10.7h-2.3zM1413.7 889.3h2.3v10.7h-2.3zM1417.0 889.3h2.3v10.7h-2.3zM1420.3 889.3h2.3v10.7h-2.3zM1423.6 889.3h2.3v10.7h-2.3zM1426.9 889.3h2.3v10.7h-2.3zM1430.2 889.3h2.3v10.7h-2.3zM1433.5 889.3h2.3v10.7h-2.3zM1436.8 889.3h2.3v10.7h-2.3zM1440.1 889.3h2.3v10.7h-2.3zM1443.4 889.3h2.3v10.7h-2.3zM1446.7 889.3h2.3v10.7h-2.3zM1450.0 889.3h2.3v10.7h-2.3zM1453.3 889.3h2.3v10.7h-2.3zM1456.6 889.3h2.3v10.7h-2.3zM1459.9 889.3h2.3v10.7h-2.3zM1463.2 889.3h2.3v10.7h-2.3zM1466.5 889.3h2.3v10.7h-2.3zM1469.8 889.3h2.3v10.7h-2.3zM1473.1 889.3h2.3v10.7h-2.3zM1476.4 889.3h2.3v10.7h-2.3zM1479.7 889.3h2.3v10.7h-2.3zM1483.0 889.3h2.3v10.7h-2.3zM1486.3 889.3h2.3v10.7h-2.3zM1489.6 889.3h2.3v10.7h-2.3zM1492.9 889.3h2.3v10.7h-2.3zM1496.2 889.3h2.3v10.7h-2.3zM1499.5 889.3h2.3v10.7h-2.3zM1502.8 891.1h2.3v8.9h-2.3zM1506.1 891.1h2.3v8.9h-2.3zM1509.4 891.1h2.3v8.9h-2.3zM1512.7 891.1h2.3v8.9h-2.3zM1516.0 891.1h2.3v8.9h-2.3zM1519.3 891.1h2.3v8.9h-2.3zM1522.6 891.1h2.3v8.9h-2.3zM1525.9 891.1h2.3v8.9h-2.3zM1529.2 891.1h2.3v8.9h-2.3zM1532.5 891.1h2.3v8.9h-2.3zM1535.8 891.1h2.3v8.9h-2.3zM1539.1 891.1h2.3v8.9h-2.3zM1542.4 891.1h2.3v8.9h-2.3zM1545.7 891.1h2.3v8.9h-2.3zM1549.0 891.1h2.3v8.9h-2.3zM1552.3 891.1h2.3v8.9h-2.3zM1555.6 891.1h2.3v8.9h-2.3zM1558.9 891.1h2.3v8.9h-2.3zM1562.2 891.1h2.3v8.9h-2.3zM1565.5 891.1h2.3v8.9h-2.3zM1568.8 891.1h2.3v8.9h-2.3zM1572.1 891.1h2.3v8.9h-2.3zM1575.4 891.1h2.3v8.9h-2.3zM1578.7 891.1h2.3v8.9h-2.3zM1582.0 891.1h2.3v8.9h-2.3zM1585.3 891.1h2.3v8.9h-2.3zM1588.6 891.1h2.3v8.9h-2.3zM1591.9 891.1h2.3v8.9h-2.3zM1595.2 891.1h2.3v8.9h-2.3zM1598.5 892.4h2.3v7.6h-2.3zM1601.8 892.4h2.3v7.6h-2.3zM1605.1 892.4h2.3v7.6h-2.3zM1608.4 892.4h2.3v7.6h-2.3zM1611.7 892.4h2.3v7.6h-2.3zM1615.0 892.4h2.3v7.6h-2.3zM1618.3 892.4h2.3v7.6h-2.3zM1621.6 892.4h2.3v7.6h-2.3zM1624.9 892.4h2.3v7.6h-2.3zM1628.2 892.4h2.3v7.6h-2.3zM1631.5 892.4h2.3v7.6h-2.3zM1634.8 892.4h2.3v7.6h-2.3zM1638.1 892.4h2.3v7.6h-2.3zM1641.4 892.4h2.3v7.6h-2.3zM1644.7 892.4h2.3v7.6h-2.3zM1648.0 892.4h2.3v7.6h-2.3zM1651.3 892.4h2.3v7.6h-2.3zM1654.6 892.4h2.3v7.6h-2.3zM1657.9 892.4h2.3v7.6h-2.3zM1661.2 892.4h2.3v7.6h-2.3zM1664.5 892.4h2.3v7.6h-2.3zM1667.8 892.4h2.3v7.6h-2.3zM1671.1 892.4h2.3v7.6h-2.3zM1674.4 892.4h2.3v7.6h-2.3zM1677.7 892.4h2.3v7.6h-2.3zM1681.0 892.4h2.3v7.6h-2.3zM1684.3 892.4h2.3v7.6h-2.3zM1687.6 893.5h2.3v6.5h-2.3zM1690.9 893.5h2.3v6.5h-2.3zM1694.2 893.5h2.3v6.5h-2.3zM1697.5 893.5h2.3v6.5h-2.3zM1700.8 893.5h2.3v6.5h-2.3zM1704.1 893.5h2.3v6.5h-2.3zM1707.4 893.5h2.3v6.5h-2.3zM1710.7 893.5h2.3v6.5h-2.3zM1714.0 893.5h2.3v6.5h-2.3zM1717.3 893.5h2.3v6.5h-2.3zM1720.6 893.5h2.3v6.5h-2.3zM1723.9 893.5h2.3v6.5h-2.3zM1727.2 893.5h2.3v6.5h-2.3zM1730.5 893.5h2.3v6.5h-2.3zM1733.8 894.7h2.3v5.3h-2.3zM1737.1 894.7h2.3v5.3h-2.3zM1740.4 894.7h2.3v5.3h-2.3zM1743.7 894.7h2.3v5.3h-2.3zM1747.0 894.7h2.3v5.3h-2.3zM1750.3 894.7h2.3v5.3h-2.3zM1753.6 894.7h2.3v5.3h-2.3zM1756.9 894.7h2.3v5.3h-2.3zM1760.2 894.7h2.3v5.3h-2.3zM1763.5 894.7h2.3v5.3h-2.3zM1766.8 894.7h2.3v5.3h-2.3zM1770.1 894.7h2.3v5.3h-2.3zM1773.4 894.7h2.3v5.3h-2.3zM1776.7 894.7h2.3v5.3h-2.3zM1780.0 894.7h2.3v5.3h-2.3zM1783.3 897.5h2.3v2.5h-2.3zM1786.6 897.5h2.3v2.5h-2.3zM1789.9 898.7h2.3v1.3h-2.3z" fill="#00b5d8"/></svg>
<div class="t" style="left:976.0px;top:768.9px;font-size:15.5px;font-weight:normal;color:#55595f;letter-spacing:0.3px;">10</div>
<div class="t" style="left:985.0px;top:831.5px;font-size:15.5px;font-weight:normal;color:#55595f;letter-spacing:0px;">5</div>
<div class="t" style="left:985.0px;top:893.2px;font-size:15.5px;font-weight:normal;color:#55595f;letter-spacing:0px;">0</div>
<div class="t" style="left:949px;top:873px;font-size:17.5px;color:#55595f;letter-spacing:0.5px;transform-origin:0 0;transform:rotate(-90deg)">Seconds</div>
<div class="t" style="left:998.5px;top:915px;font-size:16px;color:#55595f;letter-spacing:0.3px;transform-origin:100% 0;transform:translateX(-100%) rotate(-45deg)">Porto...</div>
<div class="t" style="left:1031.1px;top:915px;font-size:16px;color:#55595f;letter-spacing:0.3px;transform-origin:100% 0;transform:translateX(-100%) rotate(-45deg)">Kolkata</div>
<div class="t" style="left:1063.7px;top:915px;font-size:16px;color:#55595f;letter-spacing:0.3px;transform-origin:100% 0;transform:translateX(-100%) rotate(-45deg)">Sydney</div>
<div class="t" style="left:1096.3px;top:915px;font-size:16px;color:#55595f;letter-spacing:0.3px;transform-origin:100% 0;transform:translateX(-100%) rotate(-45deg)">T...</div>
<div class="t" style="left:1128.9px;top:915px;font-size:16px;color:#55595f;letter-spacing:0.3px;transform-origin:100% 0;transform:translateX(-100%) rotate(-45deg)">K...</div>
<div class="t" style="left:1161.5px;top:915px;font-size:16px;color:#55595f;letter-spacing:0.3px;transform-origin:100% 0;transform:translateX(-100%) rotate(-45deg)">Santiago</div>
<div class="t" style="left:1194.1px;top:915px;font-size:16px;color:#55595f;letter-spacing:0.3px;transform-origin:100% 0;transform:translateX(-100%) rotate(-45deg)">Tanfj...</div>
<div class="t" style="left:1226.7px;top:915px;font-size:16px;color:#55595f;letter-spacing:0.3px;transform-origin:100% 0;transform:translateX(-100%) rotate(-45deg)">Colombo...</div>
<div class="t" style="left:1259.3px;top:915px;font-size:16px;color:#55595f;letter-spacing:0.3px;transform-origin:100% 0;transform:translateX(-100%) rotate(-45deg)">Townsend</div>
<div class="t" style="left:1291.9px;top:915px;font-size:16px;color:#55595f;letter-spacing:0.3px;transform-origin:100% 0;transform:translateX(-100%) rotate(-45deg)">Telegraph</div>
<div class="t" style="left:1324.5px;top:915px;font-size:16px;color:#55595f;letter-spacing:0.3px;transform-origin:100% 0;transform:translateX(-100%) rotate(-45deg)">San Jose</div>
<div class="t" style="left:1357.1px;top:915px;font-size:16px;color:#55595f;letter-spacing:0.3px;transform-origin:100% 0;transform:translateX(-100%) rotate(-45deg)">Pioneer</div>
<div class="t" style="left:1389.7px;top:915px;font-size:16px;color:#55595f;letter-spacing:0.3px;transform-origin:100% 0;transform:translateX(-100%) rotate(-45deg)">Campi...</div>
<div class="t" style="left:1422.3px;top:915px;font-size:16px;color:#55595f;letter-spacing:0.3px;transform-origin:100% 0;transform:translateX(-100%) rotate(-45deg)">Athens</div>
<div class="t" style="left:1454.9px;top:915px;font-size:16px;color:#55595f;letter-spacing:0.3px;transform-origin:100% 0;transform:translateX(-100%) rotate(-45deg)">Am...</div>
<div class="t" style="left:1487.5px;top:915px;font-size:16px;color:#55595f;letter-spacing:0.3px;transform-origin:100% 0;transform:translateX(-100%) rotate(-45deg)">Bursa</div>
<div class="t" style="left:1520.1px;top:915px;font-size:16px;color:#55595f;letter-spacing:0.3px;transform-origin:100% 0;transform:translateX(-100%) rotate(-45deg)">Ams...</div>
<div class="t" style="left:1552.7px;top:915px;font-size:16px;color:#55595f;letter-spacing:0.3px;transform-origin:100% 0;transform:translateX(-100%) rotate(-45deg)">Dublin</div>
<div class="t" style="left:1585.3px;top:915px;font-size:16px;color:#55595f;letter-spacing:0.3px;transform-origin:100% 0;transform:translateX(-100%) rotate(-45deg)">Belgrade</div>
<div class="t" style="left:1617.9px;top:915px;font-size:16px;color:#55595f;letter-spacing:0.3px;transform-origin:100% 0;transform:translateX(-100%) rotate(-45deg)">Toco...</div>
<div class="t" style="left:1650.5px;top:915px;font-size:16px;color:#55595f;letter-spacing:0.3px;transform-origin:100% 0;transform:translateX(-100%) rotate(-45deg)">Johannesburg</div>
<div class="t" style="left:1683.1px;top:915px;font-size:16px;color:#55595f;letter-spacing:0.3px;transform-origin:100% 0;transform:translateX(-100%) rotate(-45deg)">London</div>
<div class="t" style="left:1715.7px;top:915px;font-size:16px;color:#55595f;letter-spacing:0.3px;transform-origin:100% 0;transform:translateX(-100%) rotate(-45deg)">Abu...</div>
<div class="t" style="left:1748.3px;top:915px;font-size:16px;color:#55595f;letter-spacing:0.3px;transform-origin:100% 0;transform:translateX(-100%) rotate(-45deg)">Newark</div>
<div class="t" style="left:1780.9px;top:915px;font-size:16px;color:#55595f;letter-spacing:0.3px;transform-origin:100% 0;transform:translateX(-100%) rotate(-45deg)">Dubu...</div>
<i class="a" style="left:1901px;top:0;width:3px;height:942px;background:#dcdce0"></i>
<i class="a" style="left:1901.5px;top:26px;width:2.5px;height:178px;background:#66666d"></i>
<svg class="a" style="left:1866px;top:100px" width="38" height="70" viewBox="1866 100 38 70"><path d="M1871.5 105.5 L1871.5 157.5 L1882.5 147.5 L1892 164 L1902 159.5 L1893.5 144.5 L1908 143 Z" fill="#fdfdfd" stroke="#16161a" stroke-width="2" stroke-linejoin="miter"/></svg>
</body></html>
